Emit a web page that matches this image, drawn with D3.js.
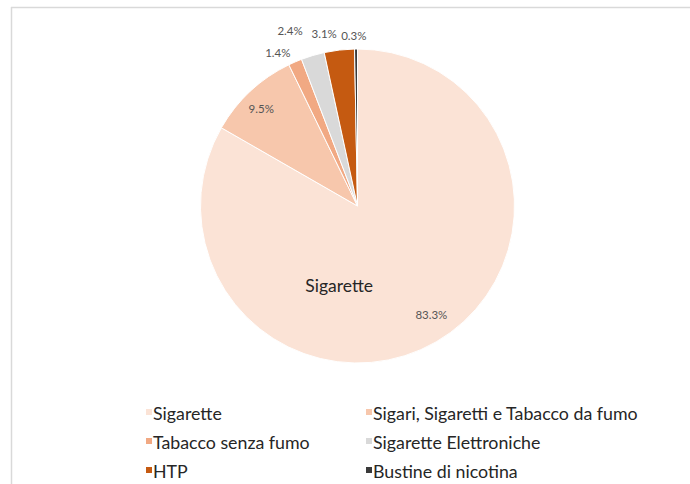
<!DOCTYPE html>
<html>
<head>
<meta charset="utf-8">
<script src="https://cdn.jsdelivr.net/npm/d3@7"></script>
<style>
  body { margin: 0; background: #fff; }
  svg { display: block; font-family: Lato, "Open Sans", sans-serif; }
</style>
</head>
<body>
<div id="chart"></div>
<script>
// DATA
const categories = [
  "Sigarette",
  "Sigari, Sigaretti e Tabacco da fumo",
  "Tabacco senza fumo",
  "Sigarette Elettroniche",
  "HTP",
  "Bustine di nicotina",
];
const shares = [83.3, 9.5, 1.4, 2.4, 3.1, 0.3];
const shareLabels = ["83.3%", "9.5%", "1.4%", "2.4%", "3.1%", "0.3%"];

const WIDTH = 690;
const HEIGHT = 484;
const CX = 357.5;
const CY = 206;
const R = 157;

// CANVAS
const svg = d3
  .select("#chart")
  .append("svg")
  .attr("width", WIDTH)
  .attr("height", HEIGHT);

// frame (cropped slide border)
svg.append("line")
  .attr("x1", 11).attr("x2", WIDTH)
  .attr("y1", 7.5).attr("y2", 7.5)
  .attr("stroke", "#d9d9d9").attr("stroke-width", 1.5);
svg.append("line")
  .attr("x1", 11.5).attr("x2", 11.5)
  .attr("y1", 7).attr("y2", HEIGHT)
  .attr("stroke", "#d9d9d9").attr("stroke-width", 1.5);

// SCALE
const color = d3
  .scaleOrdinal()
  .domain(categories)
  .range(["#fbe3d6", "#f7c7ac", "#f1a983", "#d9d9d9", "#c55a11", "#3a3a3a"]);

const pie = d3.pie().sort(null).value((d) => d);
const arcs = pie(shares);
const arc = d3.arc().innerRadius(0).outerRadius(R);

// ELEMENTS
const g = svg.append("g").attr("transform", `translate(${CX}, ${CY})`);

g.selectAll("path")
  .data(arcs)
  .enter()
  .append("path")
  .attr("d", arc)
  .attr("fill", (d, i) => color(categories[i]))
  .attr("stroke", "#fff")
  .attr("stroke-width", 1);

// label placement: angle shift (deg) and radius factor from the slice mid angle
const labelLayout = [
  { da: -4, k: 0.84 },
  { da: -1.8, k: 0.87 },
  { da: -4.1, k: 1.1 },
  { da: -4.5, k: 1.195 },
  { da: -4.3, k: 1.116 },
  { da: -0.7, k: 1.083 },
];

function labelPoint(d, i) {
  const a = (d.startAngle + d.endAngle) / 2 + (labelLayout[i].da * Math.PI) / 180;
  const dist = R * labelLayout[i].k;
  return [Math.sin(a) * dist, -Math.cos(a) * dist];
}

g.selectAll(".pct")
  .data(arcs)
  .enter()
  .append("text")
  .attr("class", "pct")
  .attr("x", (d, i) => labelPoint(d, i)[0])
  .attr("y", (d, i) => labelPoint(d, i)[1])
  .attr("dy", "0.35em")
  .attr("text-anchor", "middle")
  .attr("font-size", "11.5px")
  .style("fill", "#555555")
  .text((d, i) => shareLabels[i]);

// category name inside the big slice
const bigMid = (arcs[0].startAngle + arcs[0].endAngle) / 2 + (43 * Math.PI) / 180;
g.append("text")
  .attr("x", Math.sin(bigMid) * R * 0.52)
  .attr("y", -Math.cos(bigMid) * R * 0.52)
  .attr("dy", "0.35em")
  .attr("text-anchor", "middle")
  .attr("font-size", "17.5px")
  .style("fill", "#262626")
  .text(categories[0]);

// LEGEND
const legend = svg
  .append("g")
  .attr("class", "legend")
  .selectAll("g")
  .data(categories)
  .enter()
  .append("g")
  .attr("transform", (d, i) => `translate(${i % 2 === 0 ? 146 : 366}, ${420 + Math.floor(i / 2) * 29})`);

legend
  .append("rect")
  .attr("x", 0)
  .attr("y", -11)
  .attr("width", 6)
  .attr("height", 6)
  .attr("fill", (d) => color(d));

legend
  .append("text")
  .attr("x", 7)
  .attr("y", 0)
  .attr("font-size", "17.8px")
  .style("fill", "#262626")
  .text((d) => d);
</script>
</body>
</html>
